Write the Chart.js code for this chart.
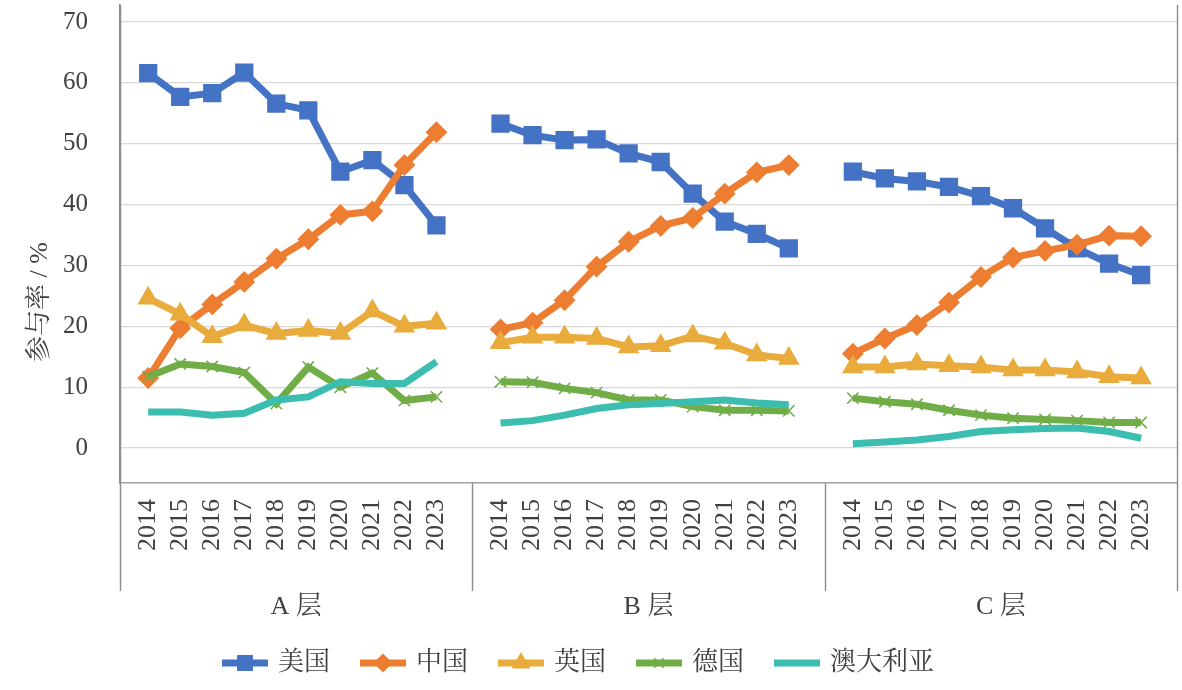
<!DOCTYPE html>
<html>
<head>
<meta charset="utf-8">
<script src="https://cdn.jsdelivr.net/npm/chart.js@4/dist/chart.umd.min.js"></script>
<style>
  body { margin: 0; background: #fff; }
  #wrap { width: 1182px; height: 690px; position: relative; }
</style>
</head>
<body>
<div id="wrap"><canvas id="myChart"></canvas></div>
<script>
// categories
const years = ["2014", "2015", "2016", "2017", "2018", "2019", "2020", "2021", "2022", "2023"];
const groups = ["A 层", "B 层", "C 层"];
const yTicks = [0, 10, 20, 30, 40, 50, 60, 70];
const seriesNames = ["美国", "中国", "英国", "德国", "澳大利亚"];

// values, A layer then B then C (10 years each)
const usa = [61.6, 57.7, 58.3, 61.7, 56.6, 55.5, 45.4, 47.3, 43.2, 36.6,
             53.3, 51.4, 50.6, 50.7, 48.4, 47.0, 41.8, 37.2, 35.2, 32.8,
             45.4, 44.3, 43.8, 42.9, 41.4, 39.4, 36.1, 32.8, 30.3, 28.4];
const china = [11.5, 19.7, 23.6, 27.3, 31.1, 34.3, 38.3, 38.9, 46.5, 51.9,
               19.5, 20.6, 24.3, 29.8, 33.9, 36.5, 37.8, 41.8, 45.3, 46.5,
               15.5, 18.0, 20.2, 23.9, 28.1, 31.3, 32.4, 33.4, 34.9, 34.8];
const uk = [24.6, 22.0, 18.3, 20.2, 18.8, 19.3, 18.8, 22.5, 20.0, 20.5,
            17.3, 18.2, 18.2, 18.0, 16.6, 16.8, 18.4, 17.2, 15.3, 14.7,
            13.3, 13.3, 13.8, 13.5, 13.3, 12.8, 12.8, 12.5, 11.7, 11.5];
const germany = [11.7, 13.8, 13.4, 12.4, 7.3, 13.3, 10.0, 12.3, 7.8, 8.4,
                 10.9, 10.8, 9.8, 9.1, 7.9, 7.9, 6.8, 6.2, 6.2, 6.1,
                 8.2, 7.6, 7.2, 6.2, 5.4, 4.9, 4.7, 4.5, 4.2, 4.2];
const australia = [5.9, 5.9, 5.4, 5.7, 7.9, 8.4, 10.9, 10.6, 10.6, 14.2,
                   4.1, 4.5, 5.4, 6.5, 7.1, 7.3, 7.6, 7.9, 7.4, 7.1,
                   0.7, 1.0, 1.3, 1.9, 2.7, 3.0, 3.2, 3.3, 2.7, 1.6];

const SLOTS = 11;      // slots per layer on the x scale
const FIRST = 0.88;    // where 2014 sits inside a layer
const FONT = "'Liberation Serif', 'Noto Serif CJK SC', 'Noto Sans CJK SC', serif";
const TEXT = "#404040";

// turn one 30-value series into x/y points, with a gap between layers
function toPoints(vals) {
  const pts = [];
  groups.forEach(function(g, gi) {
    years.forEach(function(y, i) {
      pts.push({ x: gi * SLOTS + FIRST + i, y: vals[gi * years.length + i] });
    });
    pts.push({ x: gi * SLOTS + SLOTS - 0.05, y: null });
  });
  return pts;
}

const styles = [
  { color: "#4472C4", point: "rect", r: 11.5, bw: 2 },
  { color: "#ED7D31", point: "rectRot", r: 9.5, bw: 2 },
  { color: "#E9AB3B", point: "triangle", r: 10.5, bw: 2 },
  { color: "#70AD47", point: "crossRot", r: 8, bw: 1.6 },
  { color: "#3BBDB0", point: false, r: 0, bw: 0 }
];
const allValues = [usa, china, uk, germany, australia];

const datasets = allValues.map(function(vals, k) {
  const s = styles[k];
  return {
    label: seriesNames[k],
    data: toPoints(vals),
    borderColor: s.color,
    backgroundColor: s.color,
    borderWidth: 7,
    pointStyle: s.point,
    pointRadius: s.r,
    pointBorderWidth: s.bw,
    pointBorderColor: s.color,
    pointBackgroundColor: s.color,
    spanGaps: false,
    tension: 0,
    order: allValues.length - k
  };
});

// dividers, layer names, y title and legend
const extras = {
  id: "extras",
  afterDraw(chart) {
    const ctx = chart.ctx;
    const a = chart.chartArea;
    const x = chart.scales.x;
    const y = chart.scales.y;
    ctx.save();
    ctx.strokeStyle = "#8c8c8c";
    ctx.lineWidth = 1.4;
    for (let g = 0; g <= groups.length; g++) {
      const px = Math.round(x.getPixelForValue(g * SLOTS)) + 0.5;
      const top = (g === 0 || g === groups.length) ? a.top : a.bottom;
      ctx.beginPath();
      ctx.moveTo(px, top);
      ctx.lineTo(px, a.bottom + 108);
      ctx.stroke();
    }

    ctx.fillStyle = TEXT;
    ctx.font = "26px " + FONT;
    ctx.textAlign = "center";
    ctx.textBaseline = "middle";
    groups.forEach(function(name, g) {
      ctx.fillText(name, x.getPixelForValue(g * SLOTS + SLOTS / 2), a.bottom + 124);
    });

    // y axis title
    ctx.save();
    ctx.translate(40, y.getPixelForValue(24));
    ctx.rotate(-Math.PI / 2);
    ctx.fillText("参与率 / %", 0, 0);
    ctx.restore();

    // legend: line with marker, then name
    const lineW = 46, gap = 10, itemGap = 30;
    const widths = seriesNames.map(function(n) { return lineW + gap + ctx.measureText(n).width; });
    const total = widths.reduce(function(s, w) { return s + w; }, 0) + itemGap * (seriesNames.length - 1);
    let lx = 578 - total / 2;
    const ly = a.bottom + 180;
    seriesNames.forEach(function(n, k) {
      const s = styles[k];
      ctx.strokeStyle = s.color;
      ctx.lineWidth = 7;
      ctx.beginPath();
      ctx.moveTo(lx, ly);
      ctx.lineTo(lx + lineW, ly);
      ctx.stroke();
      if (s.point && Chart.helpers && Chart.helpers.drawPoint) {
        ctx.fillStyle = s.color;
        ctx.lineWidth = s.bw;
        Chart.helpers.drawPoint(ctx, { pointStyle: s.point, radius: s.r * 0.85, rotation: 0, borderWidth: s.bw }, lx + lineW / 2, ly);
      }
      ctx.fillStyle = TEXT;
      ctx.textAlign = "left";
      ctx.fillText(n, lx + lineW + gap, ly);
      lx += widths[k] + itemGap;
    });
    ctx.restore();
  }
};

new Chart("myChart", {
  type: "line",
  data: { datasets: datasets },
  plugins: [extras],
  options: {
    responsive: true,
    maintainAspectRatio: false,
    animation: false,
    layout: { autoPadding: false, padding: { top: 5, right: 5, left: 0, bottom: 0 } },
    plugins: {
      legend: { display: false },
      tooltip: { enabled: false }
    },
    scales: {
      x: {
        type: "linear",
        min: 0,
        max: groups.length * SLOTS,
        afterBuildTicks: function(scale) {
          const t = [];
          groups.forEach(function(g, gi) {
            years.forEach(function(y, i) { t.push({ value: gi * SLOTS + FIRST + i }); });
          });
          scale.ticks = t;
        },
        afterFit: function(scale) {
          scale.height = 207;
          scale.paddingLeft = 0;
          scale.paddingRight = 0;
        },
        grid: { display: false, drawTicks: false },
        border: { display: true, color: "#a0a0a0", width: 1.5 },
        ticks: {
          autoSkip: false,
          minRotation: 90,
          maxRotation: 90,
          padding: 16,
          color: TEXT,
          font: { family: FONT, size: 26 },
          callback: function(value, index) { return years[index % years.length]; }
        }
      },
      y: {
        min: -5.75,
        max: 72.8,
        afterBuildTicks: function(scale) {
          scale.ticks = yTicks.map(function(v) { return { value: v }; });
        },
        // fixed width; the tick padding should not push the plot down
        afterFit: function(scale) {
          scale.width = 120;
          scale.paddingTop = 0;
          scale.paddingBottom = 0;
        },
        grid: { color: "#d9d9d9", lineWidth: 1.3, drawTicks: false },
        border: { display: true, color: "#8c8c8c", width: 1.5 },
        ticks: {
          padding: 32,
          color: TEXT,
          font: { family: FONT, size: 25 }
        }
      }
    }
  }
});
</script>
</body>
</html>
